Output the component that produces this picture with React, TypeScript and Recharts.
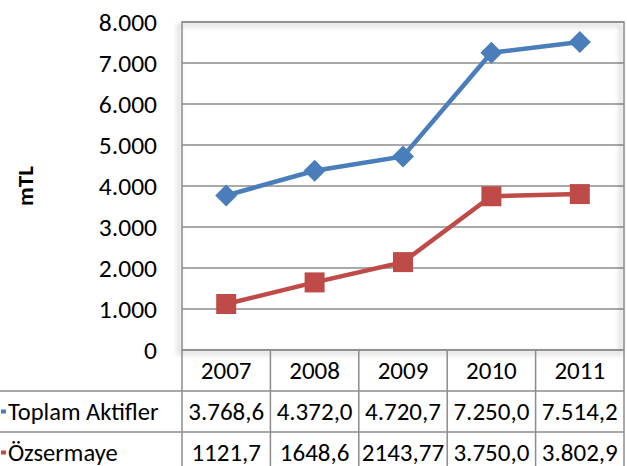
import { CartesianGrid, Line, LineChart, ReferenceArea, XAxis, YAxis } from "recharts";

const years = ["2007", "2008", "2009", "2010", "2011"];
const toplamAktifler = [3768.6, 4372.0, 4720.7, 7250.0, 7514.2];
const ozsermaye = [1121.7, 1648.6, 2143.77, 3750.0, 3802.9];
const toplamLabels = ["3.768,6", "4.372,0", "4.720,7", "7.250,0", "7.514,2"];
const ozsermayeLabels = ["1121,7", "1648,6", "2143,77", "3.750,0", "3.802,9"];
const seriesNames = ["Toplam Aktifler", "Özsermaye"];
const yTicks = [0, 1000, 2000, 3000, 4000, 5000, 6000, 7000, 8000];

const BLUE = "#4a7ebb";
const RED = "#be4b48";
const GRID = "#8c8c8c";
const FONT = "Carlito, Lato, 'Open Sans', sans-serif";

const data = years.map((year, i) => ({
  year,
  toplam: toplamAktifler[i],
  ozsermaye: ozsermaye[i],
}));

function yLabel(value: number): string {
  if (value === 0) return "0";
  return `${Math.floor(value / 1000)}.${String(value % 1000).padStart(3, "0")}`;
}

function Diamond({ cx, cy }: { cx?: number; cy?: number }) {
  if (cx == null || cy == null) return null;
  return <path d={`M${cx},${cy - 11}L${cx + 11},${cy}L${cx},${cy + 11}L${cx - 11},${cy}Z`} fill={BLUE} />;
}

function Square({ cx, cy }: { cx?: number; cy?: number }) {
  if (cx == null || cy == null) return null;
  return <rect x={cx - 10} y={cy - 10} width={20} height={20} fill={RED} />;
}

// the data table under the plot is drawn from the x axis ticks
function TableTick(props: any) {
  const { x, y, payload, index, visibleTicksCount, width } = props;
  const half = width / visibleTicksCount / 2;
  const left = x - half;
  const right = x + half;
  const rowH = 41;
  const numStyle = { fontFamily: FONT, fontSize: 25, fill: "#000" };
  const nameStyle = { fontFamily: FONT, fontSize: 24.5, fill: "#000" };
  return (
    <g>
      {index === 0 ? (
        <g>
          <line x1={0} x2={left + width} y1={y + rowH} y2={y + rowH} stroke={GRID} strokeWidth={1.5} />
          <line x1={0} x2={left + width} y1={y + rowH * 2} y2={y + rowH * 2} stroke={GRID} strokeWidth={1.5} />
          <line x1={left} x2={left} y1={y} y2={y + rowH * 3} stroke={GRID} strokeWidth={1.5} />
          <rect x={1} y={y + rowH * 1.5 - 2} width={5} height={4} fill={BLUE} />
          <rect x={1} y={y + rowH * 2.5 - 2} width={5} height={4} fill={RED} />
          <text x={8} y={y + rowH * 1.5} dominantBaseline="central" style={nameStyle}>{seriesNames[0]}</text>
          <text x={8} y={y + rowH * 2.5} dominantBaseline="central" style={nameStyle}>{seriesNames[1]}</text>
        </g>
      ) : null}
      <line x1={right} x2={right} y1={y} y2={y + rowH * 3} stroke={GRID} strokeWidth={1.5} />
      <text x={x} y={y + rowH * 0.5} textAnchor="middle" dominantBaseline="central" style={numStyle}>{payload.value}</text>
      <text x={x} y={y + rowH * 1.5} textAnchor="middle" dominantBaseline="central" style={numStyle}>{toplamLabels[index]}</text>
      <text x={x} y={y + rowH * 2.5} textAnchor="middle" dominantBaseline="central" style={numStyle}>{ozsermayeLabels[index]}</text>
    </g>
  );
}

function AxisTitle({ viewBox }: any) {
  const cx = viewBox.x + 25;
  const cy = viewBox.y + viewBox.height / 2;
  return (
    <text x={cx} y={cy} transform={`rotate(-90 ${cx} ${cy})`} textAnchor="middle" dominantBaseline="central" style={{ fontFamily: FONT, fontSize: 23, fontWeight: 700, fill: "#000" }}>
      mTL
    </text>
  );
}

export default function App() {
  return (
    <div style={{ position: "absolute", left: 0, top: 0, width: 627, height: 466, background: "#fff", overflow: "hidden" }}>
      <svg width={0} height={0} style={{ position: "absolute" }}>
        <defs>
          <filter id="plotShadow" x="-10%" y="-10%" width="120%" height="120%">
            <feDropShadow dx={-3} dy={3} stdDeviation={2.5} floodColor="#000" floodOpacity={0.35} />
          </filter>
        </defs>
      </svg>
      <LineChart width={627} height={466} data={data} margin={{ top: 22, right: 3, bottom: 0, left: 0 }}>
        <CartesianGrid horizontal vertical={false} stroke={GRID} strokeWidth={1.5} />
        <XAxis
          dataKey="year"
          scale="band"
          height={116}
          tickLine={false}
          axisLine={false}
          tickSize={0}
          tickMargin={0}
          interval={0}
          tick={<TableTick />}
        />
        <YAxis
          width={182}
          domain={[0, 8000]}
          ticks={yTicks}
          tickFormatter={yLabel}
          tickLine={false}
          axisLine={false}
          tickSize={0}
          tickMargin={25}
          tick={{ fontFamily: FONT, fontSize: 25.5, fill: "#000" }}
          label={<AxisTitle />}
        />
        <ReferenceArea y1={0} y2={8000} fill="none" stroke={GRID} strokeWidth={1.5} style={{ filter: "url(#plotShadow)" }} />
        <Line dataKey="toplam" stroke={BLUE} strokeWidth={4.5} dot={<Diamond />} activeDot={false} isAnimationActive={false} />
        <Line dataKey="ozsermaye" stroke={RED} strokeWidth={4.5} dot={<Square />} activeDot={false} isAnimationActive={false} />
      </LineChart>
    </div>
  );
}
